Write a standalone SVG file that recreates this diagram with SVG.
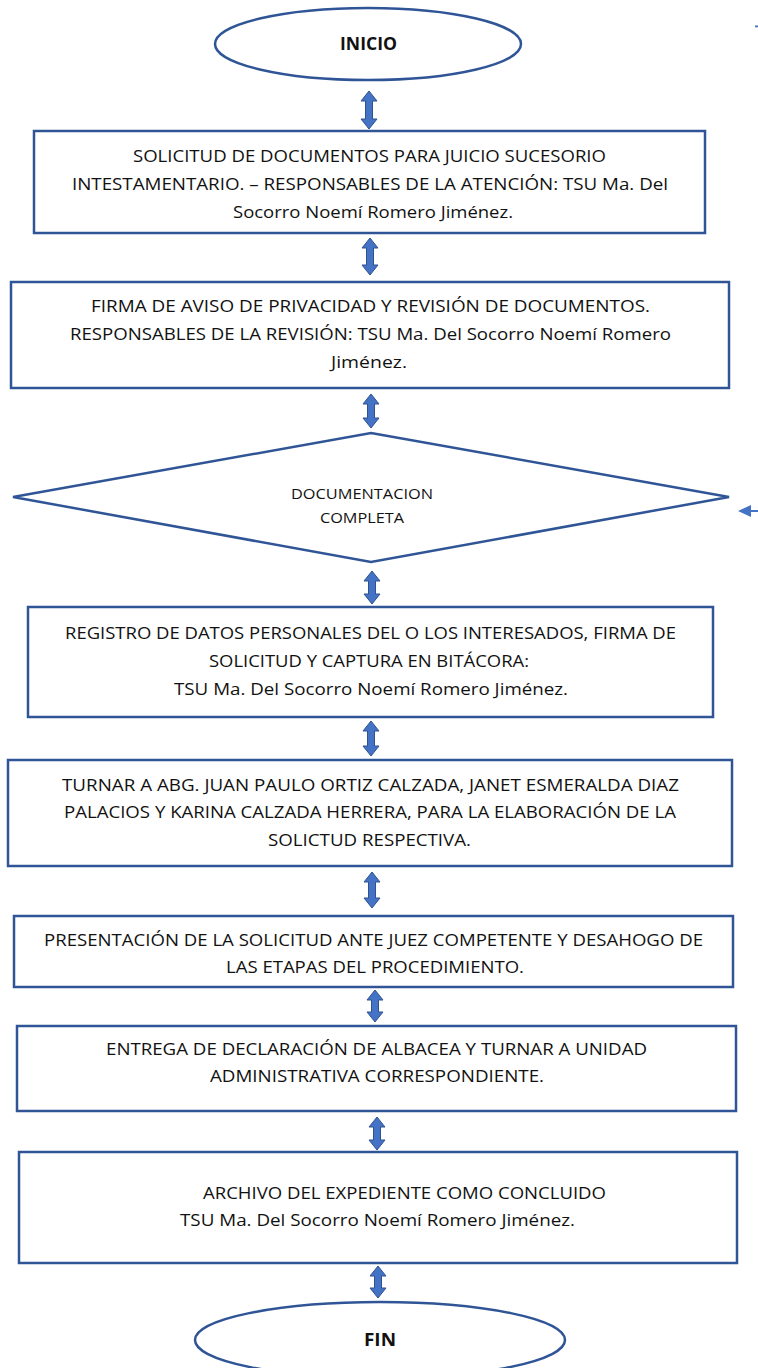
<svg xmlns="http://www.w3.org/2000/svg" width="758" height="1368" viewBox="0 0 758 1368">
  <defs>
    <style>
      .shape { fill: #ffffff; stroke: #2F5597; stroke-width: 2.5; }
      .txt { font-family: "Open Sans", "Liberation Sans", sans-serif; font-size: 16px; fill: #111111; text-anchor: start; }
      .dtxt { font-family: "Open Sans", "Liberation Sans", sans-serif; font-size: 14px; fill: #111111; }
      .bold { font-family: "Open Sans", "Liberation Sans", sans-serif; font-size: 17px; font-weight: bold; fill: #111111; }
      .dbl { fill: #4472C4; stroke: #2F528F; stroke-width: 1; }
      .lead { fill: #4472C4; stroke: none; }
    </style>
  </defs>
  <rect width="758" height="1368" fill="#ffffff"/>

  <!-- start terminal -->
  <g id="inicio">
    <ellipse class="shape" cx="368" cy="44" rx="153" ry="36"/>
    <text class="bold" x="340" y="50" textLength="57" lengthAdjust="spacingAndGlyphs">INICIO</text>
  </g>

  <g id="solicitud">
    <rect class="shape" x="34" y="131" width="671" height="102"/>
    <text class="txt" x="133" y="162" textLength="473" lengthAdjust="spacingAndGlyphs">SOLICITUD DE DOCUMENTOS PARA JUICIO SUCESORIO</text>
    <text class="txt" x="72" y="190" textLength="596" lengthAdjust="spacingAndGlyphs">INTESTAMENTARIO. – RESPONSABLES DE LA ATENCIÓN: TSU Ma. Del</text>
    <text class="txt" x="233" y="218" textLength="280" lengthAdjust="spacingAndGlyphs">Socorro Noemí Romero Jiménez.</text>
  </g>

  <g id="firma-aviso">
    <rect class="shape" x="11" y="282" width="718" height="106"/>
    <text class="txt" x="91" y="312" textLength="559" lengthAdjust="spacingAndGlyphs">FIRMA DE AVISO DE PRIVACIDAD Y REVISIÓN DE DOCUMENTOS.</text>
    <text class="txt" x="70" y="340" textLength="601" lengthAdjust="spacingAndGlyphs">RESPONSABLES DE LA REVISIÓN: TSU Ma. Del Socorro Noemí Romero</text>
    <text class="txt" x="331" y="368" textLength="76" lengthAdjust="spacingAndGlyphs">Jiménez.</text>
  </g>

  <!-- decision -->
  <g id="documentacion">
    <polygon class="shape" points="371,433 729,497 371,562 13,497"/>
    <text class="dtxt" x="291" y="499" textLength="142" lengthAdjust="spacingAndGlyphs">DOCUMENTACION</text>
    <text class="dtxt" x="320" y="523" textLength="84" lengthAdjust="spacingAndGlyphs">COMPLETA</text>
  </g>

  <g id="registro">
    <rect class="shape" x="28" y="607" width="685" height="110"/>
    <text class="txt" x="65" y="639" textLength="611" lengthAdjust="spacingAndGlyphs">REGISTRO DE DATOS PERSONALES DEL O LOS INTERESADOS, FIRMA DE</text>
    <text class="txt" x="209" y="667" textLength="320" lengthAdjust="spacingAndGlyphs">SOLICITUD Y CAPTURA EN BITÁCORA:</text>
    <text class="txt" x="174" y="695" textLength="394" lengthAdjust="spacingAndGlyphs">TSU Ma. Del Socorro Noemí Romero Jiménez.</text>
  </g>

  <g id="turnar">
    <rect class="shape" x="8" y="760" width="724" height="106"/>
    <text class="txt" x="62" y="791" textLength="617" lengthAdjust="spacingAndGlyphs">TURNAR A ABG. JUAN PAULO ORTIZ CALZADA, JANET ESMERALDA DIAZ</text>
    <text class="txt" x="64" y="818" textLength="612" lengthAdjust="spacingAndGlyphs">PALACIOS Y KARINA CALZADA HERRERA, PARA LA ELABORACIÓN DE LA</text>
    <text class="txt" x="268" y="846" textLength="203" lengthAdjust="spacingAndGlyphs">SOLICTUD RESPECTIVA.</text>
  </g>

  <g id="presentacion">
    <rect class="shape" x="14" y="916" width="719" height="71"/>
    <text class="txt" x="44" y="946" textLength="659" lengthAdjust="spacingAndGlyphs">PRESENTACIÓN DE LA SOLICITUD ANTE JUEZ COMPETENTE Y DESAHOGO DE</text>
    <text class="txt" x="226" y="973" textLength="298" lengthAdjust="spacingAndGlyphs">LAS ETAPAS DEL PROCEDIMIENTO.</text>
  </g>

  <g id="entrega">
    <rect class="shape" x="17" y="1026" width="719" height="85"/>
    <text class="txt" x="106" y="1055" textLength="541" lengthAdjust="spacingAndGlyphs">ENTREGA DE DECLARACIÓN DE ALBACEA Y TURNAR A UNIDAD</text>
    <text class="txt" x="210" y="1082" textLength="334" lengthAdjust="spacingAndGlyphs">ADMINISTRATIVA CORRESPONDIENTE.</text>
  </g>

  <g id="archivo">
    <rect class="shape" x="19" y="1152" width="718" height="111"/>
    <text class="txt" x="203" y="1199" textLength="403" lengthAdjust="spacingAndGlyphs">ARCHIVO DEL EXPEDIENTE COMO CONCLUIDO</text>
    <text class="txt" x="180" y="1226" textLength="395" lengthAdjust="spacingAndGlyphs">TSU Ma. Del Socorro Noemí Romero Jiménez.</text>
  </g>

  <!-- end terminal -->
  <g id="fin">
    <ellipse class="shape" cx="380" cy="1340" rx="185" ry="38"/>
    <text class="bold" x="364" y="1346" textLength="32" lengthAdjust="spacingAndGlyphs">FIN</text>
  </g>

  <!-- two-headed block arrows between steps -->
  <g id="connectors">
    <path class="dbl" d="M369,91 L377,101 L372.5,101 L372.5,119 L377,119 L369,129 L361,119 L365.5,119 L365.5,101 L361,101 Z"/>
    <path class="dbl" d="M370,238 L378,248 L373.5,248 L373.5,265 L378,265 L370,275 L362,265 L366.5,265 L366.5,248 L362,248 Z"/>
    <path class="dbl" d="M371,394 L379,404 L374.5,404 L374.5,418 L379,418 L371,428 L363,418 L367.5,418 L367.5,404 L363,404 Z"/>
    <path class="dbl" d="M372,571 L380,581 L375.5,581 L375.5,594 L380,594 L372,604 L364,594 L368.5,594 L368.5,581 L364,581 Z"/>
    <path class="dbl" d="M371,721 L379,731 L374.5,731 L374.5,746 L379,746 L371,756 L363,746 L367.5,746 L367.5,731 L363,731 Z"/>
    <path class="dbl" d="M372,872 L380,882 L375.5,882 L375.5,898 L380,898 L372,908 L364,898 L368.5,898 L368.5,882 L364,882 Z"/>
    <path class="dbl" d="M375,990 L383,1000 L378.5,1000 L378.5,1012 L383,1012 L375,1022 L367,1012 L371.5,1012 L371.5,1000 L367,1000 Z"/>
    <path class="dbl" d="M377,1117 L385,1127 L380.5,1127 L380.5,1140 L385,1140 L377,1150 L369,1140 L373.5,1140 L373.5,1127 L369,1127 Z"/>
    <path class="dbl" d="M378,1266 L386,1276 L381.5,1276 L381.5,1288 L386,1288 L378,1298 L370,1288 L374.5,1288 L374.5,1276 L370,1276 Z"/>
    <!-- incoming return line at the decision's right side -->
    <line x1="748" y1="511" x2="758" y2="511" stroke="#4472C4" stroke-width="2"/>
    <polygon class="lead" points="738,511 751,505 751,517"/>
    <!-- stray line end at top right -->
    <rect x="755" y="25.5" width="3" height="1.8" fill="#4472C4"/>
  </g>
</svg>
